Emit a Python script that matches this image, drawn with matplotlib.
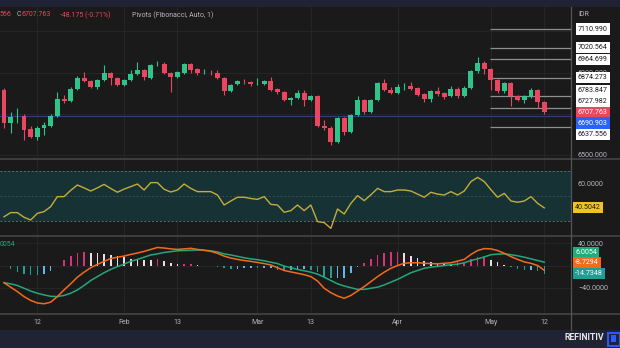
import numpy as np
import matplotlib
matplotlib.use("Agg")
import matplotlib.pyplot as plt
from matplotlib.patches import Rectangle
from matplotlib.lines import Line2D

plt.rcParams['font.family'] = ['Roboto', 'DejaVu Sans']

# ── daily candles (index 0 = first visible session) ──────────────────────────
opens = [6815, 6655, 6687, 6689, 6626, 6587, 6631, 6641, 6689, 6772,
         6762, 6820, 6873, 6859, 6830, 6864, 6898, 6873, 6840, 6864,
         6893, 6912, 6873, 6939, 6941, 6898, 6878, 6898, 6941, 6917,
         6901, 6900, 6898, 6873, 6810, 6844, 6856, 6854, 6843, 6844,
         6859, 6820, 6806, 6767, 6776, 6801, 6767, 6786, 6641, 6631,
         6563, 6679, 6612, 6694, 6767, 6709, 6767, 6849, 6815, 6801,
         6829, 6835, 6825, 6796, 6772, 6810, 6801, 6786, 6820, 6786,
         6825, 6907, 6946, 6917, 6864, 6810, 6849, 6786, 6767, 6781,
         6815, 6757]
highs = [6825, 6709, 6728, 6699, 6641, 6641, 6660, 6699, 6806, 6791,
         6830, 6883, 6903, 6864, 6869, 6937, 6903, 6878, 6869, 6912,
         6951, 6917, 6941, 6956, 6951, 6903, 6907, 6946, 6946, 6922,
         6917, 6912, 6912, 6878, 6844, 6864, 6869, 6859, 6873, 6864,
         6878, 6825, 6810, 6781, 6815, 6815, 6791, 6791, 6670, 6641,
         6684, 6684, 6699, 6786, 6772, 6772, 6854, 6869, 6830, 6844,
         6849, 6854, 6830, 6801, 6815, 6830, 6806, 6835, 6830, 6835,
         6912, 6975, 6956, 6922, 6869, 6854, 6854, 6791, 6791, 6825,
         6820, 6760]
lows = [6631, 6607, 6655, 6573, 6582, 6573, 6597, 6636, 6684, 6752,
        6757, 6815, 6854, 6825, 6820, 6859, 6840, 6835, 6835, 6859,
        6888, 6864, 6869, 6932, 6893, 6806, 6873, 6893, 6898, 6888,
        6893, 6888, 6869, 6791, 6806, 6840, 6844, 6835, 6840, 6840,
        6810, 6796, 6762, 6743, 6772, 6738, 6762, 6636, 6621, 6549,
        6558, 6597, 6607, 6689, 6699, 6704, 6762, 6810, 6796, 6796,
        6815, 6815, 6786, 6757, 6757, 6786, 6772, 6781, 6776, 6781,
        6820, 6898, 6893, 6815, 6801, 6801, 6738, 6762, 6752, 6776,
        6728, 6700]
closes = [6655, 6684, 6691, 6621, 6587, 6631, 6646, 6689, 6772, 6762,
          6820, 6873, 6859, 6830, 6864, 6898, 6873, 6840, 6864, 6893,
          6912, 6878, 6937, 6943, 6898, 6878, 6903, 6941, 6912, 6898,
          6904, 6897, 6873, 6810, 6840, 6859, 6853, 6844, 6846, 6859,
          6815, 6806, 6767, 6776, 6801, 6767, 6786, 6641, 6631, 6563,
          6679, 6612, 6694, 6767, 6709, 6767, 6849, 6815, 6801, 6830,
          6832, 6820, 6791, 6772, 6810, 6796, 6781, 6820, 6786, 6825,
          6907, 6946, 6917, 6864, 6810, 6849, 6786, 6767, 6786, 6815,
          6755.938, 6707.763]

rsi = [33.4, 36.7, 36.7, 33.0, 30.8, 36.1, 37.5, 41.5, 49.5, 49.5,
       54.5, 58.8, 56.5, 54.0, 56.5, 59.3, 56.0, 53.0, 55.5, 57.5,
       59.6, 54.8, 60.7, 60.7, 55.4, 53.2, 54.8, 59.6, 56.1, 53.5,
       53.5, 53.5, 50.8, 42.8, 46.0, 49.0, 49.0, 48.0, 47.3, 49.5,
       43.3, 42.8, 37.0, 38.3, 42.8, 38.3, 42.8, 29.5, 28.7, 24.1,
       39.6, 35.6, 44.1, 50.3, 46.3, 51.0, 56.1, 53.5, 53.5, 54.8,
       54.8, 54.0, 51.5, 49.0, 53.0, 51.5, 50.8, 53.5, 50.8, 54.0,
       61.5, 64.9, 61.5, 55.0, 49.0, 52.1, 46.0, 45.0, 46.0, 49.5,
       44.1, 40.5042]

macd = [-31, -39, -47, -56, -63, -67.5, -69, -66, -56, -44,
        -33, -21, -12, -4, 2, 7.5, 12.5, 15, 17, 20,
        22.5, 25.5, 29, 32.5, 31.5, 30, 29, 30, 31, 29,
        27.5, 25.5, 22, 17, 13.5, 11, 9, 7.5, 5.5, 3.5,
        1, -4, -9, -11.5, -14, -16.5, -20, -28, -41, -49,
        -55, -59, -54, -46, -38, -29, -20, -12, -5, 0,
        4, 5, 5, 4, 3.5, 3, 4, 5, 8, 11,
        20, 27, 30.5, 30, 27, 22, 16, 11, 6.5, 4,
        0, -8.7294]
signal = [-31, -33, -36, -41, -46, -50, -53, -55.5, -56, -54,
          -50, -44, -36, -27, -20, -13, -7, -2, 2.5, 7.5,
          11, 15, 19, 21, 23.5, 25, 26.5, 27, 27.5, 28,
          27.5, 26.5, 24.5, 21, 19, 16.5, 14, 12, 10.5, 8.5,
          6, 3.5, -1, -4, -7, -9.5, -12, -15.5, -21, -27,
          -33, -37, -40, -43, -43, -41, -39, -35, -30, -25,
          -19, -13, -9, -5, -3, -1.5, 0, 1.5, 2.5, 5,
          9, 12, 15.5, 19.5, 20.5, 21, 19.5, 17.5, 15, 12,
          9, 6.0054]

# monthly Fibonacci pivots (R3..S3) and the prior-close reference line
pivot_levels = [7110.990, 7020.564, 6964.699, 6874.273, 6783.847, 6727.982, 6637.556]
pivot_start = 73          # first session of May
ref_price = 6690.903

tick_pos = [5, 18, 26, 38, 46, 59, 73, 81]
tick_labels = ["12", "Feb", "13", "Mar", "13", "Apr", "May", "12"]

# ── colours ──────────────────────────────────────────────────────────────────
BG = "#1a1a1a"
BAND = "#1f2333"
GRID = "#262626"
SEP = "#3e3e3e"
TXT = "#b4b6bc"
GREEN = "#31c48a"
RED = "#e8475f"

W, H = 620, 348
XMIN, XMAX = -0.6, 85.0


def px_box(x0, y0, x1, y1):
    return [x0 / W, 1 - y1 / H, (x1 - x0) / W, (y1 - y0) / H]


def fy(y):
    return 1 - y / H


fig = plt.figure(figsize=(W / 100, H / 100), dpi=100, facecolor=BG)
fig.add_artist(Rectangle((0, fy(7)), 1, 7 / H, transform=fig.transFigure,
                         fc=BAND, ec="none", zorder=0))
fig.add_artist(Rectangle((0, 0), 1, 18 / H, transform=fig.transFigure,
                         fc=BAND, ec="none", zorder=0))

ax_p = fig.add_axes(px_box(0, 7, 571, 158))
ax_r = fig.add_axes(px_box(0, 160, 571, 235))
ax_m = fig.add_axes(px_box(0, 237, 571, 313))

for ax in (ax_p, ax_r, ax_m):
    ax.set_facecolor(BG)
    for s in ax.spines.values():
        s.set_visible(False)
    ax.set_xlim(XMIN, XMAX)
    ax.set_xticks(tick_pos)
    ax.grid(True, color=GRID, lw=0.7)
    ax.set_axisbelow(True)
    ax.yaxis.tick_right()
    ax.tick_params(axis="y", length=0, pad=5, labelsize=5.1, labelcolor=TXT)
    ax.tick_params(axis="x", length=0, labelbottom=False)

ax_m.tick_params(axis="x", labelbottom=True, pad=4, labelsize=5, labelcolor=TXT)
ax_m.set_xticklabels(tick_labels)


def side_label(ax, val, text, fc, tc, dy=0, dx=7):
    ax.annotate(text, xy=(1, val), xycoords=("axes fraction", "data"),
                xytext=(dx, dy), textcoords="offset pixels", ha="left", va="center",
                fontsize=5.1, color=tc, annotation_clip=False, zorder=8,
                bbox=dict(boxstyle="square,pad=0.3", fc=fc, ec="none"))


# ── price panel ──────────────────────────────────────────────────────────────
idx = np.arange(len(closes))
o = np.array(opens, dtype=float)
c = np.array(closes, dtype=float)
cols = np.where(c >= o, GREEN, RED)
ax_p.vlines(idx, lows, highs, colors=cols, lw=0.8, zorder=3)
ax_p.bar(idx, np.maximum(np.abs(c - o), 2.5), bottom=np.minimum(o, c),
         width=0.74, color=cols, lw=0, zorder=4)

ax_p.hlines(pivot_levels, pivot_start - 0.1, XMAX, colors="#8f8f8f", lw=0.9,
            zorder=2, clip_on=False)
ax_p.axhline(ref_price, color="#2f3f7c", lw=0.8, zorder=2)

# price scale: labels under the boxes are left blank
ax_p.set_ylim(6485.4, 7217.8)
ax_p.set_yticks([6500, 6700, 6900, 7100])
ax_p.set_yticklabels(["6500.000", "", "6900.000", ""])

pivot_dy = [0, 0, 0, 0, 5.5, 6.3, -7.4]
for lvl, dy in zip(pivot_levels, pivot_dy):
    side_label(ax_p, lvl, f"{lvl:.3f}", "white", "#1a1a1a", dy=dy)
side_label(ax_p, closes[-1], f"{closes[-1]:.3f}", RED, "white")
side_label(ax_p, ref_price, f"{ref_price:.3f}", "#2962ff", "white", dy=-7.4)

# header line
chg = closes[-1] - closes[-2]
fig.text(0, fy(15), "566", fontsize=5, color=RED, va="center")
fig.text(17 / W, fy(15), "C", fontsize=5, color=TXT, va="center")
fig.text(22 / W, fy(15), f"{closes[-1]:.3f}", fontsize=5, color=RED, va="center")
fig.text(60 / W, fy(15), f"{chg:.3f} ({chg / closes[-2] * 100:.2f}%)",
         fontsize=5, color=RED, va="center")
fig.text(132 / W, fy(15), "Pivots (Fibonacci, Auto, 1)", fontsize=5,
         color=TXT, va="center")
fig.text(578 / W, fy(14), "IDR", fontsize=5, color=TXT, va="center")

# ── RSI panel ────────────────────────────────────────────────────────────────
ax_r.set_ylim(18.8, 78.8)
ax_r.axhspan(30, 70, color="#173234", lw=0, zorder=1)
for lvl, a in [(70, 1.0), (30, 1.0), (50, 0.45)]:
    ax_r.axhline(lvl, color="#5f6e6e", lw=0.7, ls=(0, (2, 2)), alpha=a, zorder=2)
ax_r.plot(idx, rsi, color="#c3ad3b", lw=1.0, zorder=3)
ax_r.set_yticks([40, 60])
ax_r.set_yticklabels(["", "60.0000"])
ax_r.grid(False, axis="y")
side_label(ax_r, rsi[-1], f"{rsi[-1]:.4f}", "#f2c31a", "#1a1a1a", dx=4)

# ── MACD panel ───────────────────────────────────────────────────────────────
ax_m.set_ylim(-85.6, 51.4)
hist = np.array(macd) - np.array(signal)
prev = np.concatenate([[hist[0]], hist[:-1]])
hcols = []
for h, p in zip(hist, prev):
    if h >= 0:
        hcols.append("#d9327c" if h >= p else "#efdbe3")
    else:
        hcols.append("#1f9f96" if h < p else "#62b8ea")
ax_m.bar(idx, hist, width=0.24, color=hcols, lw=0, zorder=2)
ax_m.plot(idx, macd, color="#f26b1d", lw=1.1, zorder=4)
ax_m.plot(idx, signal, color="#22a87c", lw=1.1, zorder=3)
ax_m.set_yticks([-40, 0, 40])
ax_m.set_yticklabels(["\u221240.0000", "", "40.0000"])
side_label(ax_m, signal[-1], f"{signal[-1]:.4f}", "#22ab7b", "white", dy=9.5, dx=4)
side_label(ax_m, macd[-1], f"{macd[-1]:.4f}", "#f26b1d", "white", dy=8, dx=4)
side_label(ax_m, hist[-1], f"{hist[-1]:.4f}", "#1e9e94", "white", dx=4)
# legend value row, only its tail fits at the left edge
fig.text(0, fy(245), f"{signal[-1]:.4f}"[-4:], fontsize=5,
         color="#22a87c", ha="left", va="center")

# ── panel separators, price-scale border, footer ─────────────────────────────
for y in (159, 236, 313.5):
    fig.add_artist(Line2D([0, 1], [fy(y)] * 2, transform=fig.transFigure,
                          color=SEP, lw=1.4))
fig.add_artist(Line2D([571 / W] * 2, [18 / H, fy(7)], transform=fig.transFigure,
                      color="#555555", lw=0.9))

fig.text(604 / W, fy(338), "REFINITIV", fontsize=6.3, fontweight="bold",
         color="#e6e6e6", ha="right", va="center")
fig.add_artist(Rectangle((608 / W, fy(346)), 12 / W, 13 / H,
                         transform=fig.transFigure, fc="none", ec="#2a5cff", lw=1.4))
fig.add_artist(Rectangle((611 / W, fy(342)), 5 / W, 7 / H,
                         transform=fig.transFigure, fc="#2a5cff", ec="none"))

fig.savefig("out.png", dpi=100, facecolor=BG)
